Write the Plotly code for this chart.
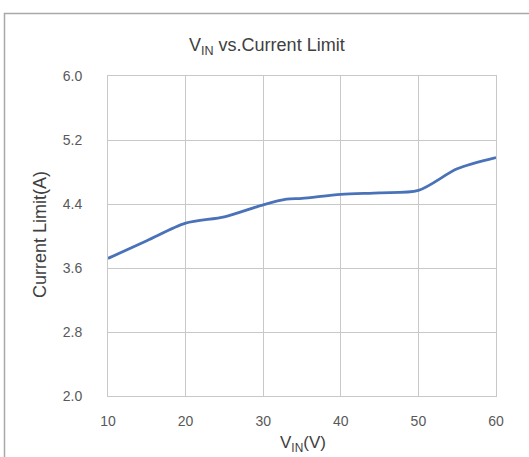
import plotly.graph_objects as go

vin = [10, 15, 20, 25, 30, 33, 35, 40, 45, 50, 55, 60]
current_limit = [3.72, 3.94, 4.16, 4.24, 4.39, 4.46, 4.47, 4.52, 4.54, 4.57, 4.84, 4.98]
y_ticks = [2.0, 2.8, 3.6, 4.4, 5.2, 6.0]
x_ticks = [10, 20, 30, 40, 50, 60]

FONT = "Liberation Sans Narrow, Liberation Sans, Arial"

fig = go.Figure()
fig.add_trace(go.Scatter(
    x=vin, y=current_limit, mode="lines",
    line=dict(color="#4a72b8", width=2.8, shape="spline", smoothing=0.8),
    showlegend=False,
))

axis_font = dict(family=FONT, size=14, color="#595959")
fig.update_layout(
    width=529, height=457,
    margin=dict(l=108, r=33, t=76, b=61),
    paper_bgcolor="white", plot_bgcolor="white",
    xaxis=dict(range=[10, 60], tickvals=x_ticks, ticktext=[str(v) for v in x_ticks],
               showgrid=True, gridcolor="#c8c8c8", gridwidth=1,
               showline=True, linecolor="#c8c8c8", mirror=True, zeroline=False,
               tickfont=axis_font, ticks="", ticklabelstandoff=12),
    yaxis=dict(range=[2.0, 6.0], tickvals=y_ticks, ticktext=[f"{v:.1f}" for v in y_ticks],
               showgrid=True, gridcolor="#c8c8c8", gridwidth=1,
               showline=True, linecolor="#c8c8c8", mirror=True, zeroline=False,
               tickfont=axis_font, ticks="", ticklabelstandoff=22),
    font=dict(family=FONT, color="#404040"),
)

fig.add_annotation(xref="paper", yref="paper", x=(267 - 108) / 388, y=(396 - 46) / 320,
                   xanchor="center", yanchor="middle",
                   text="V<sub>IN</sub> vs.Current Limit", showarrow=False,
                   font=dict(family=FONT, size=18, color="#404040"))
fig.add_annotation(xref="paper", yref="paper", x=(40 - 108) / 388, y=(396 - 235) / 320,
                   xanchor="center", yanchor="middle",
                   text="Current Limit(A)", showarrow=False, textangle=-90,
                   font=dict(family=FONT, size=18, color="#404040"))
fig.add_annotation(xref="paper", yref="paper", x=(303 - 108) / 388, y=(396 - 444) / 320,
                   xanchor="center", yanchor="middle",
                   text="V<sub>IN</sub>(V)", showarrow=False,
                   font=dict(family=FONT, size=17, color="#404040"))

fig.add_shape(type="rect", xref="paper", yref="paper",
              x0=(4.5 - 108) / 388, x1=(540 - 108) / 388,
              y0=(396 - 480) / 320, y1=(396 - 13.5) / 320,
              line=dict(color="#a8a8a8", width=1.5), fillcolor="rgba(0,0,0,0)", layer="below")

fig.write_html("out.html", config={"displayModeBar": False},
               post_script="document.body.style.margin='0';")
